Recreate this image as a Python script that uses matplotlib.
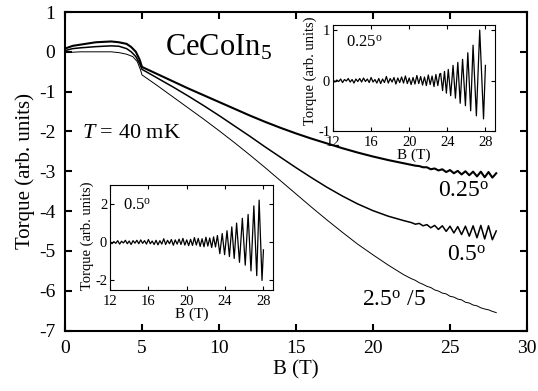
import numpy as np
import matplotlib
matplotlib.use('Agg')
import matplotlib.pyplot as plt

plt.rcParams['font.family'] = ['Liberation Serif', 'DejaVu Serif']
plt.rcParams['mathtext.fontset'] = 'custom'
plt.rcParams['mathtext.rm'] = 'Liberation Serif'
plt.rcParams['mathtext.it'] = 'Liberation Serif:italic'
plt.rcParams['axes.unicode_minus'] = False

# ---- main panel: torque vs field, three angles ----
B_025 = [0, 0.5, 1, 2, 3, 3.5, 4, 4.3, 4.6, 4.85, 5.0, 6, 7, 8, 9, 10, 11, 12, 13, 14, 15,
         16, 17, 18, 19, 20, 21, 22,
         22.5, 22.75, 23.0, 23.25, 23.5, 23.75, 24.0, 24.25, 24.5, 24.75, 25.0, 25.25,
         25.5, 25.75, 26.0, 26.25, 26.5, 26.75, 27.0, 27.25, 27.5, 27.75, 28.0]
tq_025 = [0.08, 0.15, 0.18, 0.24, 0.26, 0.24, 0.2, 0.12, 0.0, -0.2, -0.38, -0.56, -0.74,
          -0.92, -1.09, -1.26, -1.43, -1.6, -1.76, -1.91, -2.05, -2.18, -2.3, -2.42, -2.53,
          -2.63, -2.72, -2.8,
          -2.84, -2.86, -2.87, -2.90, -2.90, -2.95, -2.93, -2.98, -2.95, -3.02, -2.97, -3.05,
          -2.99, -3.08, -3.00, -3.10, -3.01, -3.13, -3.01, -3.15, -3.02, -3.16, -3.05]

B_05 = [0, 0.5, 1, 2, 3, 3.5, 4, 4.3, 4.6, 4.85, 5.0, 6, 7, 8, 9, 10, 11, 12, 13, 14, 15,
        16, 17, 18, 19, 20, 21, 22,
        22.5, 22.75, 23.0, 23.25, 23.5, 23.75, 24.0, 24.25, 24.5, 24.75, 25.0, 25.25,
        25.5, 25.75, 26.0, 26.25, 26.5, 26.75, 27.0, 27.25, 27.5, 27.75, 28.0]
tq_05 = [0.03, 0.08, 0.1, 0.13, 0.15, 0.14, 0.08, 0.0, -0.12, -0.3, -0.44, -0.66, -0.88,
         -1.11, -1.35, -1.6, -1.86, -2.12, -2.39, -2.65, -2.91, -3.16, -3.4, -3.62, -3.82,
         -3.99, -4.13, -4.24,
         -4.29, -4.33, -4.31, -4.37, -4.34, -4.42, -4.36, -4.46, -4.37, -4.51, -4.38, -4.55,
         -4.39, -4.59, -4.38, -4.63, -4.37, -4.67, -4.36, -4.70, -4.37, -4.72, -4.50]

B_25 = [0, 1, 2, 3, 3.5, 4, 4.4, 4.7, 4.9, 5.0, 6, 7, 8, 9, 10, 11, 12, 13, 14, 15, 16, 17,
        18, 19, 20, 21, 22.0, 22.25, 22.5, 22.75, 23.0, 23.25, 23.5, 23.75, 24.0, 24.25, 24.5,
        24.75, 25.0, 25.25, 25.5, 25.75, 26.0, 26.25, 26.5, 26.75, 27.0, 27.25, 27.5, 27.75, 28.0]
tq_25 = [-0.02, 0.0, 0.0, 0.0, -0.02, -0.06, -0.12, -0.25, -0.45, -0.58, -0.85, -1.13,
         -1.41, -1.69, -1.98, -2.28, -2.59, -2.91, -3.24, -3.57, -3.9, -4.22, -4.53, -4.83,
         -5.1, -5.36, -5.6, -5.65, -5.70, -5.74, -5.80, -5.84, -5.89, -5.92, -5.98, -6.01,
         -6.06, -6.08, -6.14, -6.16, -6.21, -6.23, -6.29, -6.31, -6.36, -6.38, -6.43, -6.46,
         -6.48, -6.52, -6.55]

# ---- inset data (background-subtracted oscillations) ----
ins1_noise = [0.02, -0.03, 0.01, -0.02, 0.03, -0.04, 0.02, -0.01, 0.04, -0.03,
              0.02, -0.05, 0.03, -0.02, 0.04, -0.03, 0.05, -0.02, 0.03, -0.04,
              0.06, -0.03, 0.02, -0.05, 0.04, -0.06, 0.03, -0.04, 0.08, -0.05,
              0.04, -0.03, 0.06, -0.07, 0.05, -0.04, 0.07, -0.05, 0.09, -0.06,
              0.05, -0.08, 0.06, -0.07, 0.10, -0.06, 0.08, -0.09, 0.07, -0.10,
              0.11, -0.08, 0.09, -0.12, 0.12, -0.10, 0.13]
ins1_osc_B = [23.3, 23.5, 23.7, 23.9, 24.1, 24.35, 24.6, 24.85, 25.1, 25.35, 25.6, 25.9,
              26.15, 26.45, 26.7, 27.05, 27.4, 27.8, 28.0]
ins1_osc = [0.14, -0.2, 0.18, -0.25, 0.22, -0.3, 0.3, -0.35, 0.36, -0.45, 0.42, -0.5,
            0.55, -0.6, 0.7, -0.7, 1.0, -0.76, 0.3]

ins2_noise = [0.05, -0.08, 0.03, -0.06, 0.08, -0.1, 0.05, -0.04, 0.1, -0.08,
              0.06, -0.12, 0.08, -0.05, 0.1, -0.08, 0.12, -0.06, 0.08, -0.1,
              0.14, -0.08, 0.06, -0.12, 0.1, -0.14, 0.08, -0.1, 0.18, -0.12,
              0.1, -0.08, 0.14, -0.16, 0.12, -0.1, 0.16, -0.12, 0.2, -0.15,
              0.12, -0.18, 0.15, -0.17, 0.24, -0.15, 0.2, -0.22, 0.18, -0.24,
              0.26, -0.2, 0.22, -0.28, 0.28, -0.25]
ins2_osc_B = [23.2, 23.45, 23.7, 23.95, 24.2, 24.45, 24.7, 24.95, 25.2, 25.5, 25.8, 26.1,
              26.4, 26.7, 27.0, 27.3, 27.55, 27.85, 28.0]
ins2_osc = [0.35, -0.6, 0.45, -0.65, 0.6, -0.75, 0.8, -0.85, 1.0, -1.05, 1.25, -1.2,
            1.45, -1.5, 1.9, -1.75, 2.2, -2.0, -0.4]


def style(ax, size, tlen, lw, pad):
    ax.tick_params(direction='in', top=True, right=True, length=tlen, width=lw,
                   labelsize=size, pad=pad)
    for s in ax.spines.values():
        s.set_linewidth(lw)


fig = plt.figure(figsize=(5.38, 3.91), dpi=100)
ax = fig.add_axes([0.1208, 0.1547, 0.8588, 0.8146])
ax.plot(B_025, tq_025, 'k-', lw=1.5)
ax.plot(B_05, tq_05, 'k-', lw=1.1)
ax.plot(B_25, tq_25, 'k-', lw=0.7)
ax.set_xlim(0, 30)
ax.set_ylim(-7, 1)
ax.set_xticks([0, 5, 10, 15, 20, 25, 30])
ax.set_yticks(range(-7, 2))
style(ax, 14, 5, 1.5, 7)
ax.set_xlabel('B (T)', fontsize=15, labelpad=2)
ax.set_ylabel('Torque (arb. units)', fontsize=15, labelpad=3)

ax.text(6.5, -0.08, 'CeCoIn$_5$', fontsize=22, va='baseline')
ax.text(1.1, -2.05, '$T$ = 40 mK', fontsize=16, va='center')
ax.text(24.2, -3.65, '0.25$^{\\rm o}$', fontsize=17)
ax.text(24.8, -5.25, '0.5$^{\\rm o}$', fontsize=17)
ax.text(19.3, -6.37, '2.5$^{\\rm o}$ /5', fontsize=17)

# inset 1: 0.25 deg
ax1 = fig.add_axes([0.619, 0.665, 0.301, 0.271])
x1 = np.concatenate([np.arange(12.0, 23.3, 0.2)[:len(ins1_noise)], ins1_osc_B])
ax1.plot(x1, ins1_noise + ins1_osc, 'k-', lw=0.9)
ax1.set_xlim(12, 29)
ax1.set_ylim(-1, 1.1)
ax1.set_xticks([12, 16, 20, 24, 28])
ax1.set_yticks([-1, 0, 1])
style(ax1, 10.5, 3, 0.8, 2)
ax1.tick_params(axis='x', pad=3.5)
ax1.set_xlabel('B (T)', fontsize=11, labelpad=0)
ax1.set_ylabel('Torque (arb. units)', fontsize=10.5)
ax1.yaxis.set_label_coords(-0.1, 0.57)
ax1.text(0.08, 0.83, '0.25$^{\\rm o}$', transform=ax1.transAxes, fontsize=12, va='center')

# inset 2: 0.5 deg
ax2 = fig.add_axes([0.2045, 0.2583, 0.303, 0.269])
x2 = np.concatenate([np.arange(12.0, 23.1, 0.2)[:len(ins2_noise)], ins2_osc_B])
ax2.plot(x2, ins2_noise + ins2_osc, 'k-', lw=0.9)
ax2.set_xlim(12, 29)
ax2.set_ylim(-2.5, 3)
ax2.set_xticks([12, 16, 20, 24, 28])
ax2.set_yticks([-2, 0, 2])
style(ax2, 10.5, 3, 0.8, 2)
ax2.tick_params(axis='x', pad=3.5)
ax2.set_xlabel('B (T)', fontsize=11, labelpad=0)
ax2.set_ylabel('Torque (arb. units)', fontsize=10.5)
ax2.yaxis.set_label_coords(-0.1, 0.52)
ax2.text(0.08, 0.8, '0.5$^{\\rm o}$', transform=ax2.transAxes, fontsize=12, va='center')

fig.savefig('out.png', dpi=100)
